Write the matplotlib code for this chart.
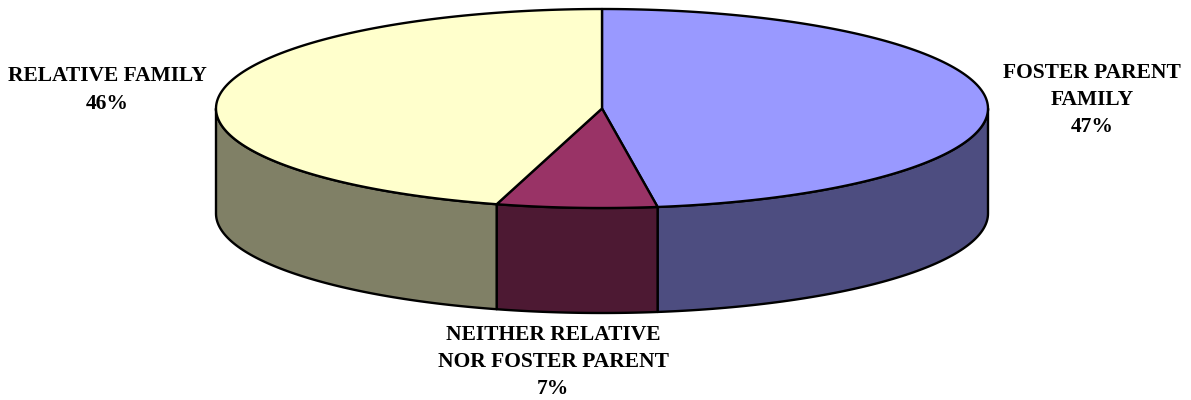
import numpy as np
import matplotlib
matplotlib.use('Agg')
import matplotlib.pyplot as plt
from matplotlib.patches import Polygon

# shares as they sit on the drawing, printed labels are rounded
values = [47.7, 6.7, 45.6]
labels = ['FOSTER PARENT\nFAMILY\n47%', 'NEITHER RELATIVE\nNOR FOSTER PARENT\n7%', 'RELATIVE FAMILY\n46%']
topColors = ['#9999FF', '#993366', '#FFFFCC']
sideColors = ['#4D4D80', '#4D1933', '#808066']

cx, cy = 602, 108.5
rx, ry = 386, 99.5
depth = 105
edge = dict(edgecolor='black', linewidth=1.7, joinstyle='round')

plt.rcParams['font.family'] = ['Liberation Serif', 'DejaVu Serif']

fig = plt.figure(figsize=(11.91, 4.0), dpi=100)
ax = fig.add_axes([0, 0, 1, 1])
ax.set_xlim(0, 1191)
ax.set_ylim(400, 0)
ax.axis('off')


def ell(a):
    # angle clockwise from the top of the pie
    return cx + rx * np.sin(a), cy - ry * np.cos(a)


edges = np.radians(np.concatenate(([0], np.cumsum(values))) * 3.6)

# side walls, only the part of each slice that faces front
for i in range(len(values)):
    a0 = max(edges[i], np.pi / 2)
    a1 = min(edges[i + 1], 3 * np.pi / 2)
    if a1 <= a0:
        continue
    t = np.linspace(a0, a1, 80)
    x, y = ell(t)
    pts = np.vstack((np.column_stack((x, y)), np.column_stack((x[::-1], y[::-1] + depth))))
    ax.add_patch(Polygon(pts, closed=True, facecolor=sideColors[i], **edge))

# top faces
for i in range(len(values)):
    t = np.linspace(edges[i], edges[i + 1], 150)
    x, y = ell(t)
    pts = np.vstack(([[cx, cy]], np.column_stack((x, y))))
    ax.add_patch(Polygon(pts, closed=True, facecolor=topColors[i], **edge))

textStyle = dict(fontsize=15.5, fontweight='bold', color='black', ha='center', va='center', linespacing=1.47)
ax.text(1092, 100, labels[0], **textStyle)
ax.text(553, 362, labels[1], **textStyle)
ax.text(107, 90, labels[2], **textStyle)

fig.savefig('out.png', dpi=100, facecolor='white')
